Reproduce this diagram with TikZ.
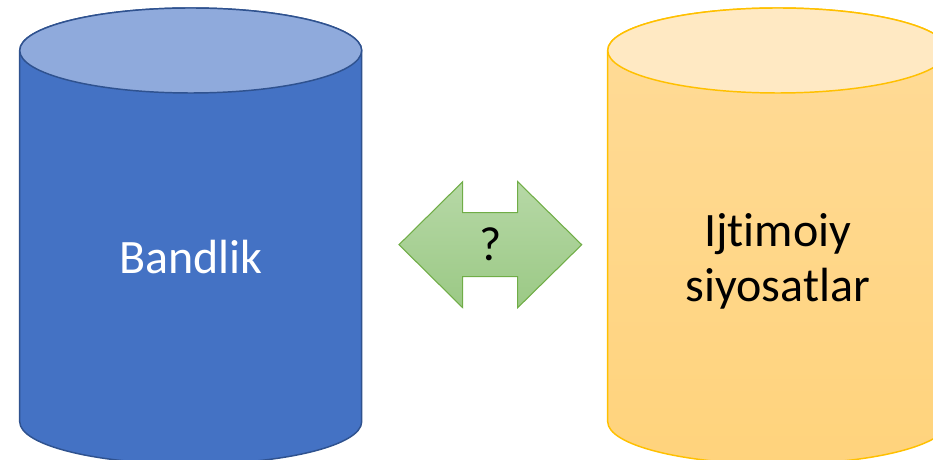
\documentclass[tikz,border=0pt]{standalone}
\usepackage{fontspec}
\setmainfont[Ligatures=CommonOff]{Carlito}
\usetikzlibrary{positioning}

\definecolor{bluebody}{HTML}{4472C4}
\definecolor{bluetop}{HTML}{8FAADC}
\definecolor{blueline}{HTML}{2F528F}
\definecolor{goldtop}{HTML}{FFE9C3}
\definecolor{goldhi}{HTML}{FFDB98}
\definecolor{goldlo}{HTML}{FFD37C}
\definecolor{goldline}{HTML}{FFC000}
\definecolor{greenhi}{HTML}{B6D8A6}
\definecolor{greenlo}{HTML}{9BC985}
\definecolor{greenline}{HTML}{70AD47}

\begin{document}
\begin{tikzpicture}[
  x=0.75pt, y=0.75pt,
  every node/.style={font=\fontsize{36}{41.25}\selectfont},
  bluecyl/.style={fill=bluebody, draw=blueline, line width=1.1pt},
  bluelid/.style={fill=bluetop, draw=blueline, line width=1.1pt},
  goldcyl/.style={top color=goldhi, bottom color=goldlo, draw=goldline, line width=1.1pt},
  goldlid/.style={fill=goldtop, draw=goldline, line width=1.1pt},
  dblarrow/.style={top color=greenhi, bottom color=greenlo, draw=greenline, line width=0.8pt},
  label/.style={align=center, inner sep=0pt}
]
  \clip (0,0) rectangle (933,460);

  %--- Bandlik
  \path[bluecyl] (19.7,409.5) -- (19.7,38.3)
    arc[start angle=180, end angle=360, x radius=171, y radius=42.5]
    -- (361.7,409.5)
    arc[start angle=0, end angle=180, x radius=171, y radius=42.5] -- cycle;
  \path[bluelid] (190.7,409.5) ellipse[x radius=171, y radius=42.5];
  \node[label, text=white, anchor=base] (band) at (190.7,186.7) {Bandlik};

  %--- Ijtimoiy siyosatlar
  \path[goldcyl] (607.7,409.5) -- (607.7,38.3)
    arc[start angle=180, end angle=360, x radius=170, y radius=42.5]
    -- (947.7,409.5)
    arc[start angle=0, end angle=180, x radius=170, y radius=42.5] -- cycle;
  \path[goldlid] (777.7,409.5) ellipse[x radius=170, y radius=42.5];
  \node[label, text=black] (siyo) at (777.7,198.5) {Ijtimoiy\\siyosatlar};

  %--- ikki tomonlama strelka
  \path[dblarrow] (399,215.3) -- (462.7,278.3) -- (462.7,247.3) -- (517.7,247.3)
    -- (517.7,278.3) -- (581.7,215.3) -- (517.7,152.3) -- (517.7,183.3)
    -- (462.7,183.3) -- (462.7,152.3) -- cycle;
  \node[label, anchor=base] (savol) at (490.5,199) {?};
\end{tikzpicture}
\end{document}
